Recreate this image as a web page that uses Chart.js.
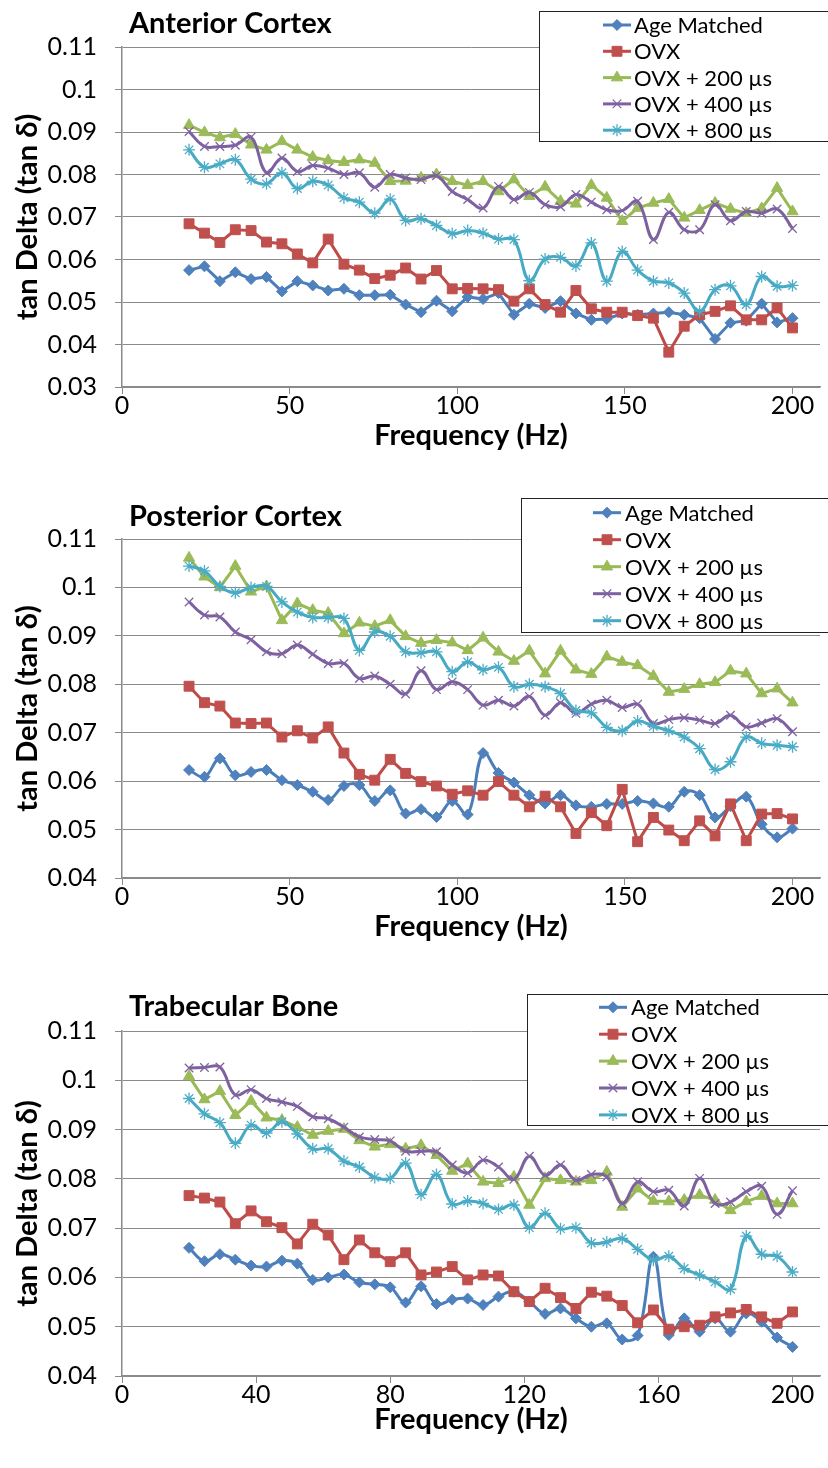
<!DOCTYPE html>
<html>
<head>
<meta charset="utf-8">
<script src="https://cdn.jsdelivr.net/npm/chart.js@4.4.0/dist/chart.umd.min.js"></script>
<style>
  html, body { margin: 0; padding: 0; background: #fff; }
  canvas { display: block; }
</style>
</head>
<body>
<canvas id="anterior" width="828" height="478"></canvas>
<canvas id="posterior" width="828" height="492"></canvas>
<canvas id="trabecular" width="828" height="498"></canvas>
<script>
// frequencies (Hz), shared by all three panels
const freqs = [20, 24.6, 29.2, 33.8, 38.5, 43.1, 47.7, 52.3, 56.9, 61.5, 66.2, 70.8, 75.4, 80, 84.6, 89.2, 93.8, 98.5, 103.1, 107.7,
  112.3, 116.9, 121.5, 126.2, 130.8, 135.4, 140, 144.6, 149.2, 153.8, 158.5, 163.1, 167.7, 172.3, 176.9, 181.5, 186.2, 190.8, 195.4, 200];

const seriesNames = ['Age Matched', 'OVX', 'OVX + 200 µs', 'OVX + 400 µs', 'OVX + 800 µs'];

// Anterior cortex
const ageA = [0.0575, 0.0584, 0.0549, 0.0570, 0.0554, 0.0559, 0.0525, 0.0549, 0.0539, 0.0527, 0.0531, 0.0516, 0.0516, 0.0517, 0.0494, 0.0476, 0.0503, 0.0478, 0.0512, 0.0507,
  0.0521, 0.0470, 0.0496, 0.0486, 0.0502, 0.0473, 0.0458, 0.0460, 0.0473, 0.0470, 0.0473, 0.0476, 0.0470, 0.0462, 0.0413, 0.0451, 0.0456, 0.0496, 0.0452, 0.0462];
const ovxA = [0.0684, 0.0662, 0.0640, 0.0670, 0.0668, 0.0641, 0.0637, 0.0613, 0.0592, 0.0648, 0.0589, 0.0575, 0.0555, 0.0563, 0.0580, 0.0554, 0.0574, 0.0531, 0.0532, 0.0531,
  0.0529, 0.0502, 0.0531, 0.0494, 0.0476, 0.0527, 0.0484, 0.0476, 0.0476, 0.0468, 0.0462, 0.0382, 0.0443, 0.0470, 0.0478, 0.0491, 0.0458, 0.0458, 0.0486, 0.0439];
const us200A = [0.0916, 0.0899, 0.0887, 0.0895, 0.0870, 0.0858, 0.0878, 0.0858, 0.0841, 0.0833, 0.0829, 0.0835, 0.0827, 0.0784, 0.0785, 0.0792, 0.0800, 0.0784, 0.0775, 0.0784,
  0.0760, 0.0788, 0.0749, 0.0771, 0.0737, 0.0731, 0.0775, 0.0745, 0.0690, 0.0721, 0.0733, 0.0742, 0.0698, 0.0716, 0.0733, 0.0719, 0.0709, 0.0720, 0.0768, 0.0713];
const us400A = [0.0901, 0.0866, 0.0866, 0.0869, 0.0888, 0.0804, 0.0839, 0.0807, 0.0821, 0.0815, 0.0800, 0.0804, 0.0770, 0.0800, 0.0792, 0.0788, 0.0797, 0.0760, 0.0741, 0.0721,
  0.0772, 0.0741, 0.0758, 0.0729, 0.0724, 0.0753, 0.0735, 0.0717, 0.0715, 0.0737, 0.0647, 0.0711, 0.0670, 0.0670, 0.0729, 0.0691, 0.0713, 0.0709, 0.0719, 0.0673];
const us800A = [0.0858, 0.0817, 0.0825, 0.0835, 0.0789, 0.0778, 0.0804, 0.0767, 0.0784, 0.0775, 0.0745, 0.0735, 0.0709, 0.0742, 0.0692, 0.0696, 0.0680, 0.0661, 0.0668, 0.0662,
  0.0648, 0.0647, 0.0550, 0.0601, 0.0605, 0.0585, 0.0639, 0.0549, 0.0619, 0.0575, 0.0549, 0.0545, 0.0521, 0.0478, 0.0529, 0.0538, 0.0494, 0.0560, 0.0537, 0.0539];

// Posterior cortex
const ageP = [0.0623, 0.0609, 0.0647, 0.0612, 0.0619, 0.0623, 0.0602, 0.0592, 0.0578, 0.0561, 0.0590, 0.0592, 0.0559, 0.0581, 0.0533, 0.0542, 0.0526, 0.0559, 0.0531, 0.0658,
  0.0617, 0.0597, 0.0571, 0.0554, 0.0571, 0.0550, 0.0547, 0.0553, 0.0553, 0.0559, 0.0554, 0.0547, 0.0578, 0.0571, 0.0525, 0.0548, 0.0568, 0.0511, 0.0484, 0.0502];
const ovxP = [0.0796, 0.0762, 0.0755, 0.0720, 0.0719, 0.0720, 0.0691, 0.0704, 0.0689, 0.0712, 0.0658, 0.0614, 0.0602, 0.0645, 0.0616, 0.0599, 0.0590, 0.0573, 0.0580, 0.0571,
  0.0599, 0.0571, 0.0547, 0.0569, 0.0547, 0.0492, 0.0535, 0.0508, 0.0583, 0.0475, 0.0525, 0.0499, 0.0477, 0.0518, 0.0487, 0.0553, 0.0477, 0.0532, 0.0533, 0.0522];
const us200P = [0.1061, 0.1022, 0.1000, 0.1044, 0.0991, 0.1002, 0.0932, 0.0967, 0.0953, 0.0947, 0.0905, 0.0927, 0.0920, 0.0932, 0.0899, 0.0885, 0.0891, 0.0886, 0.0870, 0.0896,
  0.0867, 0.0848, 0.0869, 0.0822, 0.0869, 0.0830, 0.0821, 0.0857, 0.0846, 0.0839, 0.0817, 0.0784, 0.0790, 0.0800, 0.0804, 0.0828, 0.0822, 0.0781, 0.0791, 0.0762];
const us400P = [0.0970, 0.0943, 0.0939, 0.0908, 0.0892, 0.0867, 0.0863, 0.0881, 0.0862, 0.0843, 0.0843, 0.0812, 0.0817, 0.0800, 0.0780, 0.0828, 0.0789, 0.0805, 0.0789, 0.0757,
  0.0767, 0.0755, 0.0775, 0.0736, 0.0762, 0.0740, 0.0759, 0.0767, 0.0752, 0.0759, 0.0719, 0.0727, 0.0731, 0.0726, 0.0719, 0.0736, 0.0712, 0.0720, 0.0729, 0.0702];
const us800P = [0.1044, 0.1034, 0.1002, 0.0989, 0.1000, 0.1002, 0.0970, 0.0949, 0.0938, 0.0938, 0.0936, 0.0870, 0.0908, 0.0899, 0.0867, 0.0865, 0.0867, 0.0826, 0.0846, 0.0830,
  0.0835, 0.0795, 0.0800, 0.0795, 0.0781, 0.0746, 0.0741, 0.0711, 0.0704, 0.0724, 0.0713, 0.0704, 0.0691, 0.0667, 0.0624, 0.0640, 0.0691, 0.0678, 0.0674, 0.0671];

// Trabecular bone
const ageT = [0.0660, 0.0633, 0.0647, 0.0636, 0.0624, 0.0622, 0.0634, 0.0628, 0.0595, 0.0600, 0.0606, 0.0590, 0.0586, 0.0580, 0.0549, 0.0582, 0.0546, 0.0555, 0.0557, 0.0544,
  0.0561, 0.0571, 0.0551, 0.0526, 0.0537, 0.0517, 0.0500, 0.0507, 0.0474, 0.0482, 0.0642, 0.0483, 0.0517, 0.0490, 0.0517, 0.0490, 0.0527, 0.0510, 0.0478, 0.0459];
const ovxT = [0.0766, 0.0761, 0.0753, 0.0709, 0.0735, 0.0713, 0.0701, 0.0668, 0.0708, 0.0686, 0.0636, 0.0676, 0.0650, 0.0632, 0.0650, 0.0605, 0.0611, 0.0622, 0.0595, 0.0605,
  0.0603, 0.0571, 0.0551, 0.0578, 0.0559, 0.0537, 0.0570, 0.0562, 0.0543, 0.0508, 0.0534, 0.0495, 0.0500, 0.0503, 0.0520, 0.0528, 0.0535, 0.0520, 0.0507, 0.0530];
const us200T = [0.1008, 0.0961, 0.0978, 0.0929, 0.0958, 0.0924, 0.0919, 0.0905, 0.0889, 0.0897, 0.0901, 0.0878, 0.0865, 0.0870, 0.0861, 0.0868, 0.0848, 0.0816, 0.0831, 0.0794,
  0.0791, 0.0804, 0.0747, 0.0801, 0.0797, 0.0794, 0.0797, 0.0814, 0.0743, 0.0780, 0.0755, 0.0754, 0.0757, 0.0767, 0.0757, 0.0736, 0.0754, 0.0765, 0.0750, 0.0750];
const us400T = [0.1025, 0.1026, 0.1027, 0.0970, 0.0981, 0.0963, 0.0956, 0.0947, 0.0926, 0.0922, 0.0905, 0.0885, 0.0880, 0.0877, 0.0856, 0.0856, 0.0855, 0.0828, 0.0812, 0.0838,
  0.0824, 0.0799, 0.0846, 0.0807, 0.0828, 0.0797, 0.0809, 0.0804, 0.0750, 0.0794, 0.0774, 0.0777, 0.0745, 0.0801, 0.0750, 0.0753, 0.0774, 0.0785, 0.0728, 0.0776];
const us800T = [0.0963, 0.0932, 0.0914, 0.0872, 0.0909, 0.0893, 0.0916, 0.0891, 0.0861, 0.0861, 0.0836, 0.0824, 0.0803, 0.0801, 0.0832, 0.0768, 0.0809, 0.0749, 0.0755, 0.0750,
  0.0738, 0.0747, 0.0701, 0.0730, 0.0699, 0.0701, 0.0670, 0.0672, 0.0679, 0.0657, 0.0635, 0.0643, 0.0618, 0.0605, 0.0591, 0.0576, 0.0684, 0.0647, 0.0643, 0.0611];

// series look (Excel 2007 palette)
const lineColors = ['#4A7EBB', '#BE4B48', '#98B954', '#7D60A0', '#46AAC5'];
const markerColors = ['#4F81BD', '#C0504D', '#9BBB59', '#8064A2', '#4BACC6'];
const markerStyles = ['rectRot', 'rect', 'triangle', 'crossRot', 'star'];
const markerRadius = [5.5, 7, 6.5, 6, 6];
const markerBorder = [1, 1, 1, 1.3, 1.3];

const GRID = '#8a8a8a';

Chart.defaults.font.family = 'Lato, "Open Sans", sans-serif';
Chart.defaults.color = '#000';

// panel title + boxed legend drawn over the plot, like the Excel original
const panelDecor = {
  id: 'panelDecor',
  afterDraw(chart, args, opts) {
    const ctx = chart.ctx;
    ctx.save();
    ctx.fillStyle = '#000';
    ctx.font = 'bold 29px Lato';
    ctx.textAlign = 'left';
    ctx.textBaseline = 'alphabetic';
    ctx.fillText(opts.title, opts.titleX, opts.titleY);

    const L = opts.legend;
    ctx.fillStyle = '#fff';
    ctx.fillRect(L.left, L.top, L.right - L.left, L.bottom - L.top);
    ctx.strokeStyle = '#222';
    ctx.lineWidth = 1;
    ctx.strokeRect(L.left + 0.5, L.top + 0.5, L.right - L.left - 1, L.bottom - L.top - 1);

    ctx.font = '22px Lato';
    ctx.textBaseline = 'middle';
    chart.data.datasets.forEach((ds, i) => {
      const y = L.firstRow + i * L.rowGap;
      ctx.strokeStyle = ds.borderColor;
      ctx.lineWidth = 3;
      ctx.beginPath();
      ctx.moveTo(L.lineX, y);
      ctx.lineTo(L.lineX + 28, y);
      ctx.stroke();
      ctx.fillStyle = ds.pointBackgroundColor;
      ctx.strokeStyle = ds.pointBorderColor;
      ctx.lineWidth = ds.pointBorderWidth;
      Chart.helpers.drawPoint(ctx, {
        pointStyle: ds.pointStyle, radius: ds.pointRadius, rotation: 0, borderWidth: ds.pointBorderWidth
      }, L.lineX + 14, y);
      ctx.fillStyle = '#000';
      ctx.fillText(ds.label, L.textX, y + 1);
    });
    ctx.restore();
  }
};

function buildSets(values, smooth) {
  return seriesNames.map((name, i) => ({
    label: name,
    data: freqs.map((f, k) => ({ x: f, y: values[i][k] })),
    borderColor: lineColors[i],
    backgroundColor: markerColors[i],
    pointBackgroundColor: markerColors[i],
    pointBorderColor: markerColors[i],
    pointStyle: markerStyles[i],
    pointRadius: markerRadius[i],
    pointBorderWidth: markerBorder[i],
    borderWidth: 3,
    tension: smooth[i] ? 0.4 : 0,
    order: 4 - i
  }));
}

function makePanel(id, p) {
  new Chart(document.getElementById(id), {
    type: 'line',
    data: { datasets: buildSets(p.values, p.smooth) },
    plugins: [panelDecor],
    options: {
      responsive: false,
      animation: false,
      events: [],
      layout: { padding: { top: p.plotTop, left: 0, right: 0, bottom: 0 } },
      plugins: {
        legend: { display: false },
        tooltip: { enabled: false },
        panelDecor: { title: p.title, titleX: 129, titleY: p.titleY, legend: p.legend }
      },
      scales: {
        x: {
          type: 'linear',
          min: 0,
          max: 208.2,
          afterFit: (s) => { s.height = p.xHeight; },
          grid: { drawOnChartArea: false, drawTicks: true, tickLength: 7, color: GRID },
          border: { color: GRID, width: 1.5 },
          ticks: { stepSize: p.xStep, includeBounds: false, padding: -3, maxRotation: 0, autoSkip: false, font: { size: 25 } },
          title: { display: true, text: 'Frequency (Hz)', font: { size: 29, weight: 'bold' }, padding: { top: 0, bottom: p.xTitlePad } }
        },
        y: {
          min: p.yMin,
          max: 0.11,
          afterFit: (s) => { s.width = 122; },
          grid: { color: GRID, lineWidth: 1, tickLength: 7, drawTicks: true },
          border: { color: GRID, width: 1.5 },
          ticks: { stepSize: 0.01, padding: 18, font: { size: 25 }, callback: (v) => String(Number(v.toFixed(2))) },
          title: { display: true, text: 'tan Delta (tan δ)', font: { size: 29, weight: 'bold' }, padding: { top: 10, bottom: 0 } }
        }
      }
    }
  });
}

makePanel('anterior', {
  title: 'Anterior Cortex', titleY: 33,
  values: [ageA, ovxA, us200A, us400A, us800A],
  smooth: [false, false, false, true, true],
  yMin: 0.03, xStep: 50, plotTop: 47, xHeight: 91, xTitlePad: 25,
  legend: { left: 539, top: 11, right: 830, bottom: 142, firstRow: 25, rowGap: 26.3, lineX: 603, textX: 634 }
});

makePanel('posterior', {
  title: 'Posterior Cortex', titleY: 48,
  values: [ageP, ovxP, us200P, us400P, us800P],
  smooth: [true, false, false, true, true],
  yMin: 0.04, xStep: 50, plotTop: 61, xHeight: 92, xTitlePad: 26,
  legend: { left: 521, top: 20, right: 830, bottom: 155, firstRow: 34.7, rowGap: 27, lineX: 593, textX: 625 }
});

makePanel('trabecular', {
  title: 'Trabecular Bone', titleY: 46,
  values: [ageT, ovxT, us200T, us400T, us800T],
  smooth: [true, false, false, true, true],
  yMin: 0.04, xStep: 40, plotTop: 61, xHeight: 92, xTitlePad: 31,
  legend: { left: 527, top: 24, right: 830, bottom: 156, firstRow: 37.3, rowGap: 26.9, lineX: 599, textX: 631 }
});
</script>
</body>
</html>
